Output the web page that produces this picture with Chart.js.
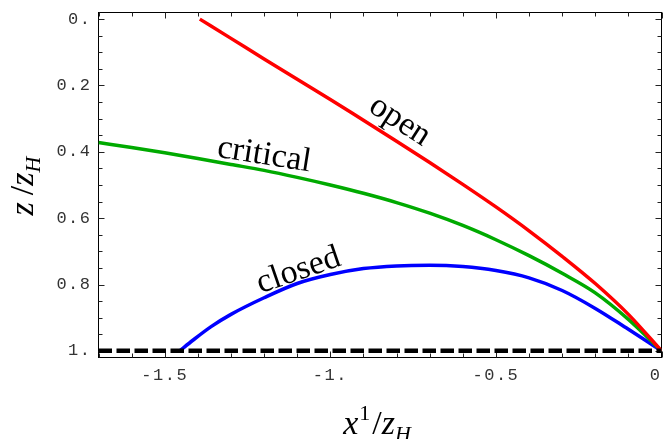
<!DOCTYPE html>
<html>
<head>
<meta charset="utf-8">
<script src="https://cdn.jsdelivr.net/npm/chart.js@4.4.0/dist/chart.umd.min.js"></script>
<style>
html, body { margin: 0; padding: 0; background: #fff; }
</style>
</head>
<body>
<canvas id="chart" width="664" height="439"></canvas>
<script>
// curve data (x1/zH, z/zH)
const openX = [-1.394, -1.3, -1.2, -1.1, -1.0, -0.9, -0.8, -0.7, -0.6, -0.5, -0.4, -0.3, -0.2, -0.1, 0];
const openZ = [0, 0.058, 0.12, 0.181, 0.242, 0.305, 0.368, 0.432, 0.498, 0.566, 0.638, 0.715, 0.797, 0.89, 1.0];

const criticalX = [-1.7, -1.6, -1.5, -1.4, -1.3, -1.2, -1.1, -1.0, -0.9, -0.8, -0.7, -0.6, -0.5, -0.4, -0.3, -0.2, -0.1, 0];
const criticalZ = [0.372, 0.387, 0.403, 0.42, 0.438, 0.456, 0.477, 0.5, 0.525, 0.553, 0.585, 0.622, 0.665, 0.713, 0.766, 0.825, 0.905, 1.0];

const closedX = [-1.455, -1.415, -1.36, -1.3, -1.2, -1.1, -1.0, -0.9, -0.8, -0.7, -0.6, -0.5, -0.4, -0.3, -0.2, -0.1, -0.05, 0];
const closedZ = [1.0, 0.968, 0.927, 0.89, 0.84, 0.797, 0.77, 0.752, 0.744, 0.742, 0.746, 0.758, 0.78, 0.818, 0.872, 0.935, 0.967, 1.0];

const horizonX = [-1.7, 0];
const horizonZ = [1, 1];

// axis ticks
const xTickValues = [-1.5, -1, -0.5, 0];
const xTickLabels = ["-1.5", "-1.", "-0.5", "0"];
const yTickValues = [0, 0.2, 0.4, 0.6, 0.8, 1];
const yTickLabels = ["0.", "0.2", "0.4", "0.6", "0.8", "1."];

// curve labels: text, anchor in data coords, rotation (deg)
const curveLabels = [
    { text: "open", x: -0.805, z: 0.33, angle: 33 },
    { text: "critical", x: -1.204, z: 0.437, angle: 9 },
    { text: "closed", x: -1.087, z: 0.784, angle: -19 }
];

function toPoints(xs, zs) {
    return xs.map((v, i) => ({ x: v, y: zs[i] }));
}

function labelFor(values, labels, v) {
    const i = values.findIndex(t => Math.abs(t - v) < 1e-9);
    return i >= 0 ? labels[i] : "";
}

// draws pieces of text (for sub/superscripts) centred on cx along the baseline
function drawParts(ctx, parts, cx, cy, angle) {
    ctx.save();
    ctx.translate(cx, cy);
    ctx.rotate(angle);
    ctx.textAlign = "left";
    ctx.textBaseline = "alphabetic";
    let total = 0;
    parts.forEach(p => {
        ctx.font = p.font;
        p.w = ctx.measureText(p.text).width;
        total += p.w + (p.gap || 0);
    });
    let pos = -total / 2;
    parts.forEach(p => {
        ctx.font = p.font;
        ctx.fillText(p.text, pos, p.dy || 0);
        pos += p.w + (p.gap || 0);
    });
    ctx.restore();
}

const framePlugin = {
    id: "frame",
    beforeDraw(chart) {
        chart.ctx.letterSpacing = "1.5px";
    },
    beforeDatasetsDraw(chart) {
        const { ctx, chartArea: a, scales: { x, y } } = chart;
        ctx.save();
        ctx.strokeStyle = "#000";
        ctx.lineWidth = 1;
        ctx.strokeRect(a.left, a.top, a.right - a.left, a.bottom - a.top);

        // inward ticks on all four sides
        ctx.strokeStyle = "#222";
        ctx.beginPath();
        x.ticks.forEach(t => {
            const px = Math.round(x.getPixelForValue(t.value)) + 0.5;
            const len = t.label ? 6 : 4;
            ctx.moveTo(px, a.bottom); ctx.lineTo(px, a.bottom - len);
            ctx.moveTo(px, a.top); ctx.lineTo(px, a.top + len);
        });
        y.ticks.forEach(t => {
            const py = Math.round(y.getPixelForValue(t.value)) + 0.5;
            const len = t.label ? 6 : 4;
            ctx.moveTo(a.left, py); ctx.lineTo(a.left + len, py);
            ctx.moveTo(a.right, py); ctx.lineTo(a.right - len, py);
        });
        ctx.stroke();
        ctx.restore();
    },
    afterDraw(chart) {
        const { ctx, chartArea: a, scales: { x, y } } = chart;
        ctx.save();
        ctx.letterSpacing = "0px";
        ctx.fillStyle = "#000";

        // labels on the curves
        ctx.font = "34px 'Liberation Serif', 'DejaVu Serif', serif";
        ctx.textAlign = "center";
        ctx.textBaseline = "alphabetic";
        curveLabels.forEach(l => {
            ctx.save();
            ctx.translate(x.getPixelForValue(l.x), y.getPixelForValue(l.z));
            ctx.rotate(l.angle * Math.PI / 180);
            ctx.fillText(l.text, 0, 0);
            ctx.restore();
        });

        const it = "italic 34px 'Liberation Serif', serif";
        const up = "34px 'Liberation Serif', serif";
        const itSmall = "italic 22px 'Liberation Serif', serif";
        const upSmall = "22px 'Liberation Serif', serif";

        // x axis title: x^1 / z_H
        drawParts(ctx, [
            { text: "x", font: it, gap: 1 },
            { text: "1", font: upSmall, dy: -14, gap: 2 },
            { text: "/", font: up },
            { text: "z", font: it },
            { text: "H", font: itSmall, dy: 7 }
        ], (a.left + a.right) / 2 - 3, 434, 0);

        // y axis title: z / z_H
        drawParts(ctx, [
            { text: "z", font: it, gap: 7 },
            { text: "/", font: up },
            { text: "z", font: it },
            { text: "H", font: itSmall, dy: 7 }
        ], 33, 186, -Math.PI / 2);

        ctx.restore();
        ctx.letterSpacing = "0px";
    }
};

const ctx = document.getElementById("chart").getContext("2d");
new Chart(ctx, {
    type: "scatter",
    data: {
        datasets: [
            {
                label: "horizon",
                data: toPoints(horizonX, horizonZ),
                showLine: true,
                borderColor: "#000",
                borderWidth: 4.5,
                borderDash: [13.5, 4.5],
                borderCapStyle: "butt",
                pointRadius: 0,
                order: 0
            },
            {
                label: "open",
                data: toPoints(openX, openZ),
                showLine: true,
                borderColor: "#ff0000",
                borderWidth: 3.5,
                cubicInterpolationMode: "monotone",
                pointRadius: 0,
                order: 1
            },
            {
                label: "critical",
                data: toPoints(criticalX, criticalZ),
                showLine: true,
                borderColor: "#00aa00",
                borderWidth: 3.5,
                cubicInterpolationMode: "monotone",
                pointRadius: 0,
                order: 2
            },
            {
                label: "closed",
                data: toPoints(closedX, closedZ),
                showLine: true,
                borderColor: "#0000ff",
                borderWidth: 3.5,
                cubicInterpolationMode: "monotone",
                pointRadius: 0,
                order: 3
            }
        ]
    },
    options: {
        responsive: false,
        animation: false,
        devicePixelRatio: 1,
        layout: { padding: { top: 12.5, right: 2.5, left: 0, bottom: 0 } },
        plugins: { legend: { display: false }, tooltip: { enabled: false } },
        scales: {
            x: {
                type: "linear",
                min: -1.7,
                max: 0,
                grid: { display: false, drawTicks: false },
                border: { display: false },
                afterBuildTicks: scale => {
                    const ticks = [];
                    for (let i = -17; i <= 0; i++) ticks.push({ value: i / 10 });
                    scale.ticks = ticks;
                },
                afterFit: scale => {
                    scale.height = 81.5;
                    scale.paddingLeft = 0;
                    scale.paddingRight = 0;
                },
                ticks: {
                    autoSkip: false,
                    maxRotation: 0,
                    align: "inner",
                    padding: 8,
                    color: "#333",
                    font: { family: "'Liberation Mono', 'DejaVu Sans Mono', monospace", size: 17 },
                    callback: v => labelFor(xTickValues, xTickLabels, v)
                }
            },
            y: {
                type: "linear",
                reverse: true,
                min: -0.02,
                max: 1.02,
                grid: { display: false, drawTicks: false },
                border: { display: false },
                afterBuildTicks: scale => {
                    const ticks = [];
                    for (let i = 0; i <= 20; i++) ticks.push({ value: i / 20 });
                    scale.ticks = ticks;
                },
                afterFit: scale => {
                    scale.width = 98.5;
                    scale.paddingTop = 0;
                    scale.paddingBottom = 0;
                },
                ticks: {
                    autoSkip: false,
                    padding: 7,
                    color: "#333",
                    font: { family: "'Liberation Mono', 'DejaVu Sans Mono', monospace", size: 17 },
                    callback: v => labelFor(yTickValues, yTickLabels, v)
                }
            }
        }
    },
    plugins: [framePlugin]
});
</script>
</body>
</html>
